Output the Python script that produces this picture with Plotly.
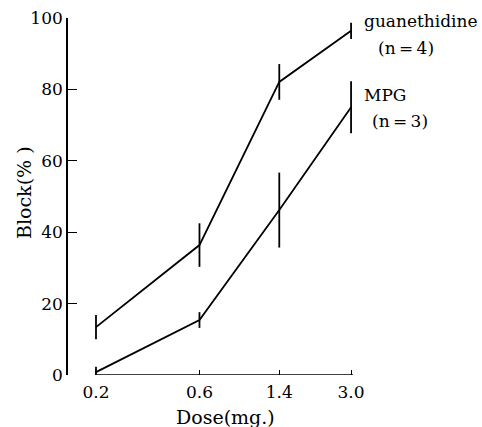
import plotly.graph_objects as go

doses = [0.2, 0.6, 1.4, 3.0]
dose_labels = ["0.2", "0.6", "1.4", "3.0"]
guan = [13.4, 36.4, 82.1, 96.4]
guan_err = [3.4, 6.1, 5.0, 2.3]
mpg = [0.8, 15.4, 46.2, 75.0]
mpg_err = [1.5, 2.2, 10.5, 7.3]
y_ticks = [0, 20, 40, 60, 80, 100]

FONT = "DejaVu Serif"
W, H = 482, 427
L, R, T, B = 68, 129, 18, 52
pw, ph = W - L - R, H - T - B

def px(x):
    return (x - L) / pw

def py(y):
    return (H - B - y) / ph

fig = go.Figure()
for vals, errs in [(guan, guan_err), (mpg, mpg_err)]:
    fig.add_trace(go.Scatter(
        x=doses, y=vals, mode="lines",
        line=dict(color="black", width=1.8),
        error_y=dict(type="data", array=errs, visible=True,
                     thickness=1.8, width=0, color="black"),
        showlegend=False, cliponaxis=True, hoverinfo="skip",
    ))

fig.add_shape(type="line", xref="x", yref="y",
              x0=doses[0], x1=doses[-1] * 1.02, y0=0, y1=0,
              line=dict(color="black", width=1.6))

fig.update_xaxes(
    type="log", range=[-0.828, 0.486], automargin=False,
    tickvals=doses, ticktext=dose_labels,
    ticks="inside", ticklen=5, tickwidth=1.2, tickcolor="black",
    showline=False, showgrid=False, zeroline=False,
    ticklabelstandoff=5,
    tickfont=dict(family=FONT, size=17, color="black"),
)
fig.update_yaxes(
    range=[0, 100], tickvals=y_ticks, automargin=False,
    ticks="inside", ticklen=9, tickwidth=1.2, tickcolor="black",
    showline=True, linecolor="black", linewidth=1.6,
    showgrid=False, zeroline=False,
    tickfont=dict(family=FONT, size=17, color="black"),
)

annos = [
    ("guanethidine", 362, 21, "left", 0),
    ("(n\u2009=\u20094)", 376, 48, "left", 0),
    ("MPG", 362, 95, "left", 0),
    ("(n\u2009=\u20093)", 370, 121, "left", 0),
    ("Dose(mg.)", 225, 417, "center", 0),
    ("Block(% )", 24, 193, "center", -90),
]
for text, x, y, anchor, ang in annos:
    fig.add_annotation(text=text, xref="paper", yref="paper",
                       x=px(x), y=py(y), xanchor=anchor, yanchor="middle",
                       showarrow=False, textangle=ang,
                       font=dict(family=FONT, size=19 if anchor == "center" else 17,
                                 color="black"))

fig.update_layout(
    width=W, height=H,
    margin=dict(l=L, r=R, t=T, b=B),
    paper_bgcolor="white", plot_bgcolor="white",
)

fig.write_html("out.html", config={"displayModeBar": False},
               post_script="document.body.style.margin='0';document.body.style.overflow='hidden';")
